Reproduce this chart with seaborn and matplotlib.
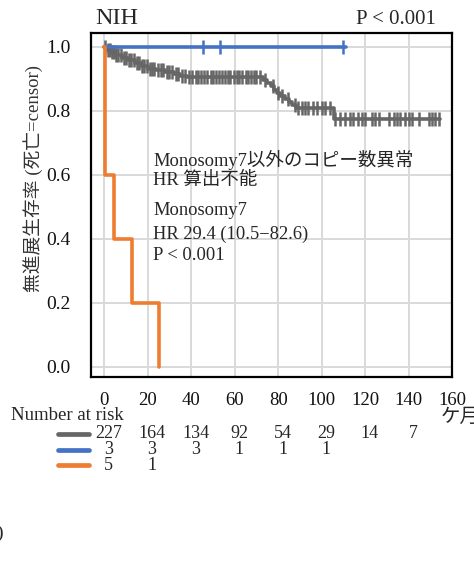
import numpy as np
import pandas as pd
import matplotlib
matplotlib.use("Agg")
import matplotlib.pyplot as plt
import matplotlib.transforms as mtrans
import seaborn as sns
from matplotlib.lines import Line2D

# ---------------- data ----------------
gray_times = [0, 1, 3, 5, 8, 11, 14, 17, 20, 24, 28, 32, 35, 38, 73, 75, 76.5, 78, 79.5,
              81, 83, 85, 86.5, 88, 105.5, 154.5]
gray_surv = [1.0, 0.991, 0.983, 0.974, 0.966, 0.958, 0.950, 0.941, 0.932, 0.927, 0.922,
             0.916, 0.910, 0.904, 0.895, 0.886, 0.876, 0.866, 0.856, 0.846, 0.836, 0.826,
             0.817, 0.808, 0.775, 0.775]
gray_censor = [0.5, 1.5, 2.5, 3.5, 4.5, 5.5, 6.5, 7.5, 9, 10, 11.5, 12.5, 13.5, 15, 16, 17.5,
               18.5, 19.5, 21, 22, 23, 24.5, 26, 27, 29, 30, 31, 33, 34, 36, 37, 39, 40.5, 42,
               43, 44.5, 46, 47.5, 49, 50, 51.5, 53, 54, 55.5, 57, 58, 59.5, 61, 62, 63.5, 65,
               66, 67.5, 69, 70, 71.5, 74, 77.5, 80, 82, 84.5, 87.8, 89.2, 91, 92.4, 93.8, 96,
               98, 100, 101.7, 104, 106.3, 108.6, 110.9, 113.2, 114.5, 116.9, 118.6, 120,
               123.2, 124.7, 126.2, 130.8, 133.1, 134.7, 136.2, 138.5, 140, 141.6, 144.6,
               149.2, 150.8, 152.3, 153.8]

blue_times = [0, 111]
blue_surv = [1.0, 1.0]
blue_censor = [45.3, 53.3, 110]

orange_times = [0, 0.5, 4.6, 12.6, 25.3]
orange_surv = [1.0, 0.6, 0.4, 0.2, 0.0]

groups = ["other", "none", "mono7"]
colors = {"other": "#666666", "none": "#4472C4", "mono7": "#ED7D31"}

risk_times = [0, 20, 40, 60, 80, 100, 120, 140]
risk_other = [227, 164, 134, 92, 54, 29, 14, 7]
risk_none = [3, 3, 3, 1, 1, 1]
risk_mono7 = [5, 1]

x_ticks = [0, 20, 40, 60, 80, 100, 120, 140, 160]
y_ticks = [0.0, 0.2, 0.4, 0.6, 0.8, 1.0]

# ---------------- build tables ----------------
curves = pd.concat([
    pd.DataFrame({"time": gray_times, "surv": gray_surv, "group": "other"}),
    pd.DataFrame({"time": blue_times, "surv": blue_surv, "group": "none"}),
    pd.DataFrame({"time": orange_times, "surv": orange_surv, "group": "mono7"}),
], ignore_index=True)


def step_value(times, surv, t):
    idx = np.searchsorted(np.asarray(times), t, side="right") - 1
    return np.asarray(surv)[idx]


cens = pd.concat([
    pd.DataFrame({"time": gray_censor,
                  "surv": step_value(gray_times, gray_surv, np.asarray(gray_censor)),
                  "group": "other"}),
    pd.DataFrame({"time": blue_censor,
                  "surv": step_value(blue_times, blue_surv, np.asarray(blue_censor)),
                  "group": "none"}),
], ignore_index=True)

# ---------------- figure ----------------
sns.set_theme(style="white")
serif = ["Liberation Serif", "Noto Sans CJK JP"]
plt.rcParams["font.family"] = serif
plt.rcParams["axes.unicode_minus"] = True

W, H = 474, 570
fig = plt.figure(figsize=(W / 100, H / 100), dpi=100)
L, R, T, B = 91, 452, 33, 377
ax = fig.add_axes([L / W, 1 - B / H, (R - L) / W, (B - T) / H])

ax.set_xlim(-6.1, 160)
ax.set_ylim(-0.032, 1.043)
ax.set_xticks(x_ticks)
ax.set_yticks(y_ticks)
ax.set_yticklabels([f"{v:.1f}" for v in y_ticks])
ax.grid(True, color="#d9d9d9", linewidth=1.4)
ax.set_axisbelow(True)

for group in groups:
    sub = curves[curves["group"] == group]
    sns.lineplot(data=sub, x="time", y="surv", color=colors[group], drawstyle="steps-post",
                 estimator=None, sort=False, legend=False, linewidth=2.6, ax=ax,
                 zorder=3 if group == "other" else 4)
    csub = cens[cens["group"] == group]
    if len(csub):
        sns.scatterplot(data=csub, x="time", y="surv", color=colors[group], marker="|",
                        s=90, linewidth=1.8, legend=False, ax=ax,
                        zorder=3 if group == "other" else 4)

ax.set_xlabel("")
ax.set_ylabel("")
for sp in ax.spines.values():
    sp.set_color("black")
    sp.set_linewidth(1.6)
ax.tick_params(axis="both", direction="out", length=6.5, width=1.5, color="black",
               labelcolor="#111111")
ax.tick_params(axis="y", labelsize=14, pad=8)
ax.tick_params(axis="x", labelsize=13.5, pad=4.5)

# annotations inside axes
ann_x = 22.4
fs_ann = 13.3
ax.text(ann_x, 0.6475, "Monosomy7以外のコピー数異常", fontsize=fs_ann, va="center", ha="left", family=serif)
ax.text(ann_x, 0.583, "HR 算出不能", fontsize=fs_ann, va="center", ha="left", family=serif)
ax.text(ann_x, 0.487, "Monosomy7", fontsize=fs_ann, va="center", ha="left", family=serif)
ax.text(ann_x, 0.413, "HR 29.4 (10.5\u221282.6)", fontsize=fs_ann, va="center", ha="left", family=serif)
ax.text(ann_x, 0.349, "P < 0.001", fontsize=fs_ann, va="center", ha="left", family=serif)

# titles
fig.text(95 / W, 1 - 18 / H, "NIH", fontsize=17.5, ha="left", va="center", family=serif)
fig.text(436 / W, 1 - 20 / H, "P < 0.001", fontsize=15, ha="right", va="center", family=serif)

# y label
fig.text(33 / W, 1 - 178 / H, "無進展生存率 (死亡=censor)", fontsize=13.5, rotation=90,
         ha="center", va="center", family=serif, color="#333333")

# x unit
fig.text(441 / W, 1 - 417 / H, "ケ月", fontsize=14, ha="left", va="center", family=serif)

# risk table
fig.text(11 / W, 1 - 415 / H, "Number at risk", fontsize=13.5, ha="left", va="center", family=serif)
blend = mtrans.blended_transform_factory(ax.transData, fig.transFigure)
rows = [(risk_other, 434, "other"), (risk_none, 450, "none"), (risk_mono7, 465, "mono7")]
for vals, ypix, group in rows:
    for t, v in zip(risk_times, vals):
        ax.text(t + 2.0, 1 - ypix / H, str(v), transform=blend, fontsize=13,
                ha="center", va="center", family=serif, clip_on=False)
    fig.add_artist(Line2D([58 / W, 89 / W], [1 - ypix / H, 1 - ypix / H],
                          color=colors[group], linewidth=3.4, solid_capstyle="round",
                          transform=fig.transFigure))

# clipped stray character at left edge
fig.text(-4 / W, 1 - 533 / H, ")", fontsize=14, ha="left", va="center", family=serif)

fig.savefig("out.png", dpi=100)
